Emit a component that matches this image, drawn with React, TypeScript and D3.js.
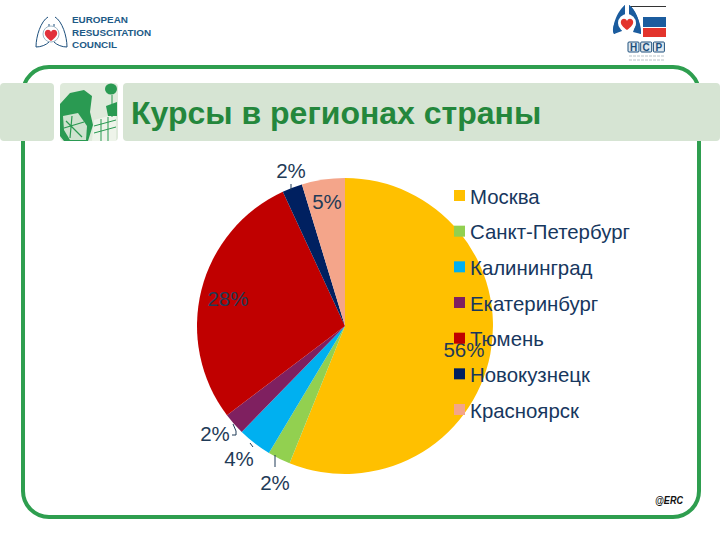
import React from "react";
import * as d3 from "d3";

const categories = ["Москва", "Санкт-Петербург", "Калининград", "Екатеринбург", "Тюмень", "Новокузнецк", "Красноярск"];
const shares = [56.1, 2.49, 3.7, 2.4, 28.4, 2.2, 4.7];
const colors = ["#ffc000", "#92d050", "#00b0f0", "#7f2060", "#c00000", "#002060", "#f4a58a"];
const titleText = "Курсы в регионах страны";
const ercLines = ["EUROPEAN", "RESUSCITATION", "COUNCIL"];
const hcpLetters = ["H", "C", "P"];

const W = 720;
const H = 540;
const GREEN = "#2e9e4f";
const BAND = "#d6e4d3";
const LABEL = "#1f3b57";
const FONT = "'Liberation Sans', Arial, sans-serif";

// label position relative to the slice, plus an optional leader line
const labelSpots = [
  { x: 464, y: 357 },
  { x: 275, y: 490, line: "M275,455V467" },
  { x: 239, y: 466, line: "M250,443L253,447" },
  { x: 215, y: 441, line: "M233,424L236,431V435H232" },
  { x: 228, y: 306 },
  { x: 291, y: 178, line: "M291,184L291,190" },
  { x: 327, y: 209 },
];

const pieCx = 345;
const pieCy = 326;
const pieR = 148;
const legendY = d3.scalePoint<string>().domain(categories).range([197, 411]);

const App: React.FC = () => {
  const slices = d3.pie<number>().sort(null)(shares);
  const arc = d3.arc<d3.PieArcDatum<number>>().innerRadius(0).outerRadius(pieR);

  return (
    <svg width={W} height={H} viewBox={`0 0 ${W} ${H}`} style={{ position: "absolute", left: 0, top: 0, background: "#fff" }}>
      {/* green frame */}
      <rect x={23} y={67} width={676} height={450} rx={26} fill="none" stroke={GREEN} strokeWidth={4} />
      <rect x={0} y={83} width={54} height={58} rx={4} fill={BAND} />
      <rect x={54} y={83} width={69} height={58} fill="#fff" />
      <rect x={123} y={83} width={597} height={58} rx={4} fill={BAND} />

      {/* picture tile */}
      <g>
        <rect x={60} y={83} width={58} height={58} rx={4} fill="#dfeadb" />
        <path d="M60,104L70,93L84,90L92,96L90,112L93,125L88,141H64L60,136Z" fill="#2a9a52" />
        <path d="M63,116L78,113L87,126L86,140H70L64,130Z" fill="#cfe3cf" />
        <path d="M66,121L82,137M72,116L70,138M64,128L84,122" stroke="#2a9a52" strokeWidth={1.2} />
        <path d="M94,120L116,114V141H92Z" fill="#eef4ea" />
        <path d="M94,126L116,120M94,133L116,127M101,119V141M108,117V141" stroke="#2a9a52" strokeWidth={1} />
        <ellipse cx={111} cy={89} rx={6} ry={5.5} fill="#2a9a52" />
        <path d="M112,95V117" stroke="#2a9a52" strokeWidth={1} />
        <path d="M106,106L117,102V116L108,116Z" fill="#2a9a52" />
      </g>

      <text x={131} y={124} fontFamily={FONT} fontWeight="bold" fontSize={32} fill="#24873c">{titleText}</text>

      {/* ERC logo */}
      <g>
        <path d="M48,17C41,21 36,36 36,47C41,47 46,45 49,42V24M55,17C62,21 67,36 67,47C62,47 57,45 54,42V24" fill="none" stroke="#1d4f7c" strokeWidth={1} />
        <circle cx={51} cy={34} r={8} fill="#fff" stroke="#9fb6c6" strokeWidth={1} />
        <path d="M51,41C47,38 44,35 45,32C46,29 50,29 51,32C52,29 56,29 57,32C58,35 55,38 51,41Z" fill="#e2313b" />
        {ercLines.map((t, i) => (
          <text key={t} x={72} y={23 + i * 12.5} fontFamily={FONT} fontWeight="bold" fontSize={9.9} fill="#1d5a86">{t}</text>
        ))}
      </g>

      {/* HCP logo */}
      <g>
        <path d="M625,5V14C619,17 616,25 620,30L614,34C612,31 613,26 616,20C618,15 622,8 625,5ZM629,5V14C635,17 638,25 634,30L641,34C642,26 636,10 629,5Z" fill="#1b5c9e" />
        <path d="M625,5C620,9 616,16 614,24C613,28 613,31 614,34L622,31L619,24L625,14ZM629,5C635,9 640,20 641,34L633,32L636,24L629,14Z" fill="#1b5c9e" />
        <circle cx={627} cy={23} r={9} fill="#fff" />
        <path d="M627,30C623,27 620,24 621,21C622,18 626,18 627,21C628,18 632,18 633,21C634,24 631,27 627,30Z" fill="#e3342c" />
        <rect x={631} y={6} width={35} height={1} fill="#333" />
        <rect x={643} y={17} width={23} height={10} fill="#1b5c9e" />
        <rect x={643} y={28} width={23} height={9} fill="#e3342c" />
        {hcpLetters.map((t, i) => (
          <g key={t}>
            <rect x={628 + i * 12.7} y={42} width={11} height={10} rx={1} fill="#dfe8ef" stroke="#1d4f7c" />
            <text x={633.5 + i * 12.7} y={51} textAnchor="middle" fontFamily={FONT} fontWeight="bold" fontSize={10} fill="#1d4f7c">{t}</text>
          </g>
        ))}
        <path d="M629,56H664M629,60H664" stroke="#b9c3c9" strokeWidth={1.2} strokeDasharray="3 1" />
      </g>

      {/* pie */}
      <g transform={`translate(${pieCx},${pieCy})`}>
        {slices.map((s, i) => (
          <path key={categories[i]} d={arc(s) ?? ""} fill={colors[i]} />
        ))}
      </g>

      {/* data labels */}
      {slices.map((s, i) => {
        const spot = labelSpots[i];
        return (
          <g key={categories[i]}>
            {spot.line && <path d={spot.line} fill="none" stroke={LABEL} strokeWidth={1} />}
            <text x={spot.x} y={spot.y} textAnchor="middle" fontFamily={FONT} fontSize={20.5} fill={LABEL}>
              {Math.floor(s.value + 0.5)}%
            </text>
          </g>
        );
      })}

      {/* legend */}
      {categories.map((c, i) => {
        const y = legendY(c) ?? 0;
        return (
          <g key={c}>
            <rect x={454} y={y - 7} width={11} height={11} fill={colors[i]} />
            <text x={470} y={y + 6.5} fontFamily={FONT} fontSize={20.4} fill="#17375e">{c}</text>
          </g>
        );
      })}

      {/* signature */}
      <text x={655} y={504} textLength={28} lengthAdjust="spacingAndGlyphs" fontFamily={FONT} fontStyle="italic" fontWeight="bold" fontSize={11} fill="#111">@ERC</text>
    </svg>
  );
};

export default App;
